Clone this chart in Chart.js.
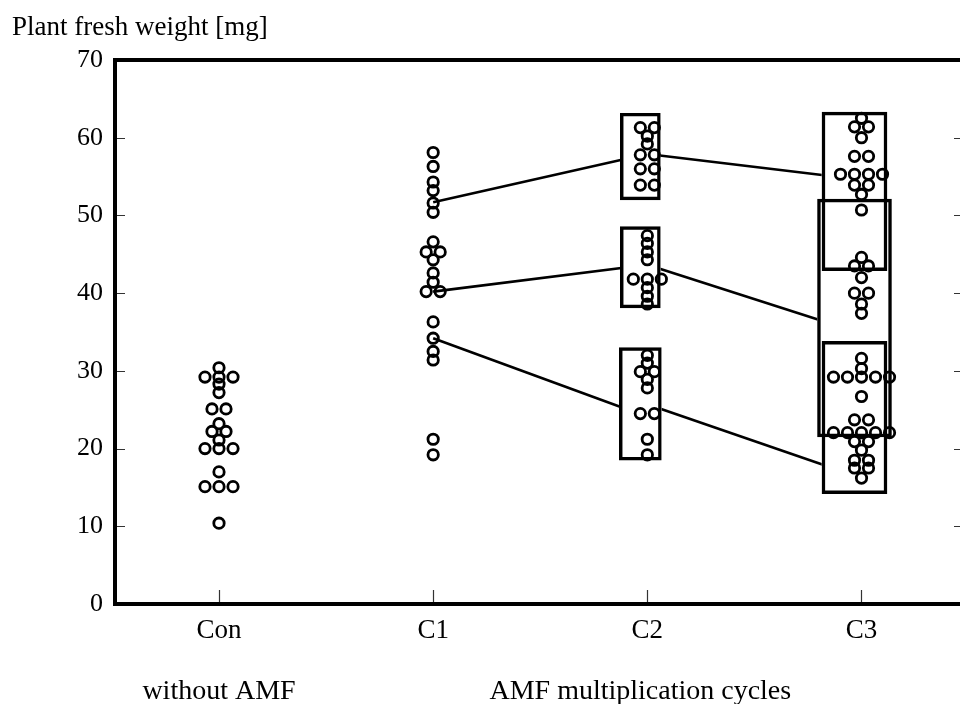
<!DOCTYPE html>
<html><head><meta charset="utf-8">
<style>
html,body{margin:0;padding:0;background:#fff;overflow:hidden;width:960px;height:704px}
#wrap{position:relative;width:980px;height:704px}
canvas{display:block}
</style>
<script src="https://cdn.jsdelivr.net/npm/chart.js@4/dist/chart.umd.min.js"></script>
</head><body><div id="wrap"><canvas id="c" width="980" height="704"></canvas></div>
<script>
// ---------- data ----------
const CATEGORIES = ['Con', 'C1', 'C2', 'C3'];
const GROUP_LABELS = ['without AMF', 'AMF multiplication cycles'];
const GROUP_LABEL_CATS = ['Con', 'C2'];
const Y_TITLE = 'Plant fresh weight [mg]';
const Y_MIN = 0, Y_MAX = 70, Y_STEP = 10;

const CON_VALUES = [30.4, 29.2, 29.2, 29.2, 28.3, 27.2, 25.1, 25.1, 23.2, 22.2, 22.2, 21.1,
  20.0, 20.0, 20.0, 17.0, 15.1, 15.1, 15.1, 10.4];
const C1_VALUES = [58.1, 56.3, 54.3, 53.2, 51.6, 50.4, 46.6, 45.3, 45.3, 44.3, 42.6, 41.4,
  40.2, 40.2, 36.3, 34.2, 32.5, 31.4, 21.2, 19.2];
const C2_VALUES = [61.3, 61.3, 60.2, 59.2, 57.8, 57.8, 56.0, 56.0, 53.9, 53.9,
  47.4, 46.4, 45.3, 44.3, 41.8, 41.8, 41.8, 40.7, 39.6, 38.6,
  32.0, 31.0, 29.9, 29.9, 28.9, 27.8, 24.5, 24.5, 21.2, 19.2];
const C3_VALUES = [62.5, 61.4, 61.4, 60.0, 57.6, 57.6, 55.3, 55.3, 55.3, 55.3, 53.9, 53.9, 52.7, 50.7,
  44.6, 43.5, 43.5, 42.0, 40.0, 40.0, 38.6, 37.4,
  31.6, 30.3, 29.2, 29.2, 29.2, 29.2, 29.2, 26.7,
  23.7, 23.7, 22.05, 22.05, 22.05, 22.05, 22.05, 20.9, 20.9, 19.8, 18.5, 18.5, 17.5, 17.5, 16.2];
const VALUES_BY_CAT = [CON_VALUES, C1_VALUES, C2_VALUES, C3_VALUES];

// range boxes (groups in later cycles)
const BOX_CATS = ['C2', 'C2', 'C2', 'C3', 'C3', 'C3'];
const BOX_LOW  = [52.0, 38.1, 18.5, 42.9, 21.5, 14.2];
const BOX_HIGH = [63.15, 48.55, 33.0, 63.3, 52.1, 33.8];

// lineage lines: C1 -> C2 -> C3
const LINE_C1     = [51.7, 40.2, 34.2];
const LINE_C2_IN  = [57.9, 43.65, 24.1];
const LINE_C2_OUT = [57.9, 43.65, 25.7];
const LINE_C3     = [54.6, 34.8, 16.2];

// ---------- styles ----------
const FONT = "'Liberation Serif', 'Times New Roman', serif";
const STYLE = {
  dotStep: 0.0654,          // horizontal spacing of side-by-side dots (category units)
  dotRadius: 5.2,
  dotBorder: 2.8,
  boxShift: -0.0327,        // boxes sit slightly left of dot column
  boxWidths: [40, 40, 42, 65, 74, 65],
  boxBorder: 2.8,
  lineWidth: 2.6,
  frameWidth: 4,
  yTickLen: 10,
  xTickLen: 14
};

// ---------- build ----------
const catIndex = c => CATEGORIES.indexOf(c);

// dot plot: equal values are spread side by side around the category centre
function dotPoints(values, ci) {
  const groups = new Map();
  values.forEach(v => {
    const k = v.toFixed(2);
    if (!groups.has(k)) groups.set(k, []);
    groups.get(k).push(v);
  });
  const pts = [];
  groups.forEach(arr => {
    const n = arr.length;
    arr.forEach((v, i) => pts.push({ x: ci + (i - (n - 1) / 2) * STYLE.dotStep, y: v }));
  });
  return pts;
}

const datasets = [];

// lines (drawn first)
LINE_C1.forEach((v, i) => {
  datasets.push({
    type: 'line', order: 4,
    data: [{ x: catIndex('C1'), y: v }, { x: catIndex('C2'), y: LINE_C2_IN[i] }],
    borderColor: '#000', borderWidth: STYLE.lineWidth, pointRadius: 0, fill: false, tension: 0
  });
  datasets.push({
    type: 'line', order: 4,
    data: [{ x: catIndex('C2'), y: LINE_C2_OUT[i] }, { x: catIndex('C3'), y: LINE_C3[i] }],
    borderColor: '#000', borderWidth: STYLE.lineWidth, pointRadius: 0, fill: false, tension: 0
  });
});

// box fills, then box outlines
BOX_CATS.forEach((c, i) => {
  const d = [{ x: catIndex(c) + STYLE.boxShift, y: [BOX_LOW[i], BOX_HIGH[i]] }];
  datasets.push({
    type: 'bar', order: 3, data: d, grouped: false,
    barThickness: STYLE.boxWidths[i], backgroundColor: '#fff', borderWidth: 0
  });
  datasets.push({
    type: 'bar', order: 2, data: d, grouped: false,
    barThickness: STYLE.boxWidths[i], backgroundColor: 'rgba(0,0,0,0)',
    borderColor: '#000', borderWidth: STYLE.boxBorder, borderSkipped: false
  });
});

// dots
VALUES_BY_CAT.forEach((vals, ci) => {
  datasets.push({
    type: 'scatter', order: 1,
    data: dotPoints(vals, ci),
    pointStyle: 'circle', pointRadius: STYLE.dotRadius, pointHoverRadius: STYLE.dotRadius,
    pointBorderWidth: STYLE.dotBorder, pointBorderColor: '#000',
    pointBackgroundColor: 'rgba(0,0,0,0)', showLine: false
  });
});

const framePlugin = {
  id: 'frame',
  afterDraw(chart) {
    const { ctx, chartArea: a, scales: { x, y } } = chart;
    ctx.save();
    // inward ticks
    ctx.strokeStyle = '#333';
    ctx.lineWidth = 1.2;
    ctx.beginPath();
    for (let v = Y_MIN + Y_STEP; v < Y_MAX; v += Y_STEP) {
      const py = Math.round(y.getPixelForValue(v)) + 0.5;
      ctx.moveTo(a.left, py); ctx.lineTo(a.left + STYLE.yTickLen, py);
      ctx.moveTo(a.right, py); ctx.lineTo(a.right - STYLE.yTickLen, py);
    }
    CATEGORIES.forEach((c, i) => {
      const px = Math.round(x.getPixelForValue(i)) + 0.5;
      ctx.moveTo(px, a.bottom); ctx.lineTo(px, a.bottom - STYLE.xTickLen);
    });
    ctx.stroke();
    // frame
    ctx.strokeStyle = '#000';
    ctx.lineWidth = STYLE.frameWidth;
    ctx.strokeRect(a.left, a.top, a.right - a.left, a.bottom - a.top);
    // texts
    ctx.fillStyle = '#000';
    ctx.textBaseline = 'alphabetic';
    ctx.textAlign = 'left';
    ctx.font = '27px ' + FONT;
    ctx.fillText(Y_TITLE, 12, 35);
    ctx.textAlign = 'center';
    ctx.font = '28px ' + FONT;
    GROUP_LABELS.forEach((t, i) => {
      const px = x.getPixelForValue(catIndex(GROUP_LABEL_CATS[i]) + (i === 1 ? STYLE.boxShift : 0));
      ctx.fillText(t, px, a.bottom + 95);
    });
    ctx.restore();
  }
};

new Chart(document.getElementById('c'), {
  type: 'scatter',
  data: { datasets },
  options: {
    responsive: false,
    animation: false,
    devicePixelRatio: 1,
    layout: { padding: { left: 12, top: 60, right: 16, bottom: 0 } },
    plugins: { legend: { display: false }, tooltip: { enabled: false }, title: { display: false } },
    events: [],
    scales: {
      x: {
        type: 'linear', min: -0.4856, max: 3.4786, offset: false,
        grid: { display: false, drawTicks: false }, border: { display: false },
        afterBuildTicks: s => { s.ticks = CATEGORIES.map((c, i) => ({ value: i })); },
        afterFit: s => { s.height = 100; },
        ticks: {
          autoSkip: false, maxRotation: 0, padding: 11, color: '#000',
          font: { family: FONT, size: 27 },
          callback: v => CATEGORIES[v] ?? ''
        }
      },
      y: {
        type: 'linear', min: Y_MIN, max: Y_MAX,
        grid: { display: false, drawTicks: false }, border: { display: false },
        afterFit: s => { s.width = 103; },
        ticks: { stepSize: Y_STEP, padding: 12, color: '#000', font: { family: FONT, size: 26 } }
      }
    }
  },
  plugins: [framePlugin]
});
</script>
</body></html>
